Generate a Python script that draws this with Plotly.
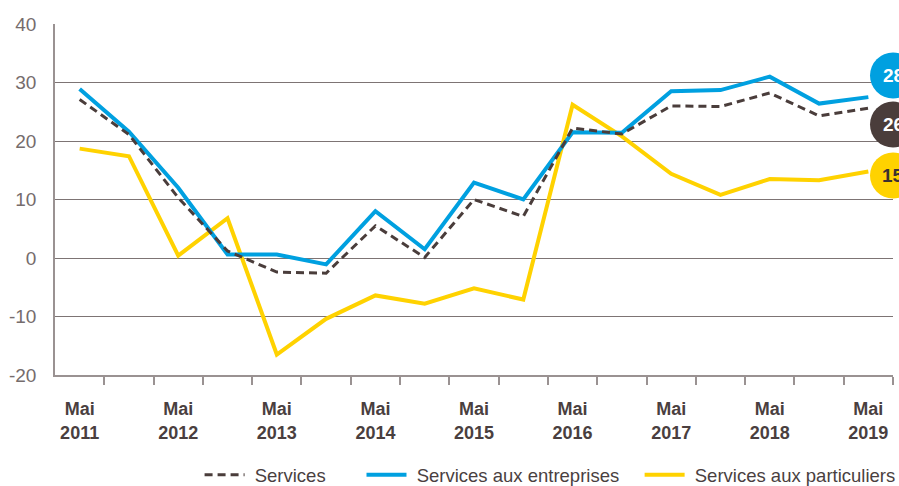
import plotly.graph_objects as go

periods = ["Mai 2011", "Nov 2011", "Mai 2012", "Nov 2012", "Mai 2013", "Nov 2013",
           "Mai 2014", "Nov 2014", "Mai 2015", "Nov 2015", "Mai 2016", "Nov 2016",
           "Mai 2017", "Nov 2017", "Mai 2018", "Nov 2018", "Mai 2019"]
services = [27.1, 21.1, 10.3, 1.2, -2.4, -2.6, 5.5, 0.1, 10.0, 7.1, 22.2, 21.2,
            26.0, 25.9, 28.2, 24.3, 25.6]
entreprises = [28.9, 21.6, 12.0, 0.6, 0.6, -1.1, 8.0, 1.5, 12.9, 10.0, 21.5, 21.4,
               28.5, 28.7, 31.0, 26.4, 27.5]
particuliers = [18.7, 17.4, 0.4, 6.8, -16.5, -10.4, -6.4, -7.8, -5.2, -7.1, 26.2, 20.8,
                14.4, 10.8, 13.5, 13.3, 14.8]
names = ["Services", "Services aux entreprises", "Services aux particuliers"]
y_ticks = [-20, -10, 0, 10, 20, 30, 40]

BLUE = "#00a0e0"
YELLOW = "#ffd200"
DARK = "#4a3d3b"
GRID = "#7d7474"
AXIS = "#9a9292"
TXT = "#4a3f3f"
FONT = "Liberation Sans, Arial, sans-serif"
NB = "\u00a0"

xs = list(range(len(periods)))
tick_idx = [i for i, p in enumerate(periods) if p.startswith("Mai")]
tick_text = ["<b>" + periods[i].replace(" ", "<br>") + "</b>" for i in tick_idx]

# legend label padding (spacing only)
pad_after = [6, 3, 0]
leg = [NB + n + NB * k for n, k in zip(names, pad_after)]

fig = go.Figure()
fig.add_trace(go.Scatter(x=xs, y=particuliers, name=leg[2], mode="lines",
                         line=dict(color=YELLOW, width=4), legendrank=3))
fig.add_trace(go.Scatter(x=xs, y=entreprises, name=leg[1], mode="lines",
                         line=dict(color=BLUE, width=4), legendrank=2))
fig.add_trace(go.Scatter(x=xs, y=services, name=leg[0], mode="lines",
                         line=dict(color=DARK, width=3, dash="8px,5px"), legendrank=1))

ymin, ymax = y_ticks[0], y_ticks[-1]
# end bubbles (vertically spread to avoid overlap)
bubble_y = [31.2, 22.8, 14.1]
bubble_vals = [entreprises[-1], services[-1], particuliers[-1]]
bubble_col = [BLUE, DARK, YELLOW]
bubble_txt = ["white", "white", "#3a3030"]
for yb, v, c, tc in zip(bubble_y, bubble_vals, bubble_col, bubble_txt):
    py = (yb - ymin) / (ymax - ymin)
    fig.add_shape(type="circle", xref="paper", yref="paper",
                  xsizemode="pixel", ysizemode="pixel",
                  xanchor=1, yanchor=py, x0=-23, x1=23, y0=-23, y1=23,
                  fillcolor=c, line=dict(width=0), layer="above")
    fig.add_annotation(xref="paper", yref="paper", x=1, y=py, xshift=0,
                       xanchor="center", yanchor="middle",
                       text="<b>%d</b>" % round(v), showarrow=False,
                       font=dict(family=FONT, size=19, color=tc))

fig.update_layout(
    width=899, height=486,
    margin=dict(l=55, r=6, t=24, b=111),
    plot_bgcolor="white", paper_bgcolor="white",
    font=dict(family=FONT, color=TXT),
    showlegend=True,
    legend=dict(orientation="h", xref="container", yref="container",
                x=0.222, xanchor="left", y=0.022, yanchor="middle",
                font=dict(family=FONT, size=18.5, color=TXT),
                itemwidth=40, tracegroupgap=0, borderwidth=0),
    xaxis=dict(range=[-0.5, len(periods) - 0.5], tickmode="array",
               tickvals=tick_idx, ticktext=tick_text, ticks="",
               showgrid=False, zeroline=False, automargin=False,
               showline=True, linecolor=AXIS, linewidth=1.5,
               ticklabelstandoff=17,
               tickfont=dict(family=FONT, size=18, color=TXT),
               minor=dict(tickmode="array",
                          tickvals=[i + 0.5 for i in xs],
                          ticks="outside", ticklen=8, tickcolor=AXIS, tickwidth=1.5,
                          showgrid=False)),
    yaxis=dict(range=[ymin, ymax], tickmode="array", tickvals=y_ticks,
               ticktext=[str(t) for t in y_ticks],
               showgrid=True, gridcolor=GRID, gridwidth=1.2,
               zeroline=True, zerolinecolor=GRID, zerolinewidth=1.2,
               showline=True, linecolor=AXIS, linewidth=1.5, automargin=False,
               ticks="", ticklabelstandoff=13,
               tickfont=dict(family=FONT, size=19, color="#756c6c")),
)

fig.write_html("out.html", config={"displayModeBar": False},
               post_script="document.body.style.margin='0';")
